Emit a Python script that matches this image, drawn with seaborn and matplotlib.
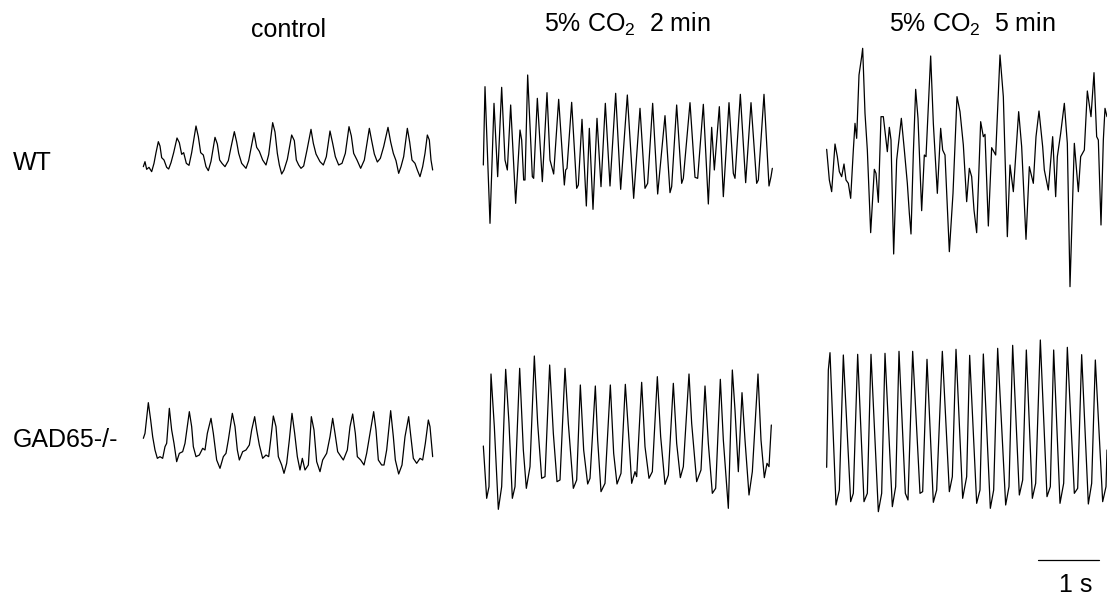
import numpy as np
import matplotlib
matplotlib.use("Agg")
import matplotlib.pyplot as plt
import seaborn as sns

FS = 183.0

wt_ctrl_t = [10, 15, 20, 27, 35, 42, 48, 55, 60, 65,
             72, 80, 86, 93, 101, 111, 118, 125, 131, 139,
             147, 155, 168, 175, 182, 190, 198, 205, 213, 225,
             232, 239, 246, 255, 265, 273, 283, 290, 296, 305,
             318, 326, 342, 350, 358, 368, 378, 386, 398, 405,
             412, 418, 425, 432, 442, 455, 463, 469, 476, 483,
             491, 501, 513, 520, 528, 540, 550, 559, 570, 578,
             586, 596, 606, 616, 627, 634, 641, 651, 662, 673,
             688, 695, 703, 712, 721, 731, 744, 752, 760, 768,
             776, 783, 791, 802, 809, 816, 825, 832, 840, 848,
             855, 862, 868, 873, 878]
wt_ctrl_v = [30, 45, 22, 28, 15, 40, 72, 105, 92, 57,
             50, 28, 23, 42, 72, 116, 102, 67, 72, 40,
             34, 72, 152, 120, 72, 65, 30, 18, 46, 118,
             98, 50, 40, 30, 48, 88, 135, 104, 70, 40,
             25, 48, 132, 88, 76, 50, 35, 66, 162, 134,
             70, 35, 8, 20, 52, 125, 108, 50, 35, 25,
             32, 80, 142, 100, 68, 45, 35, 60, 137, 100,
             60, 35, 40, 70, 150, 122, 70, 50, 25, 50,
             145, 108, 68, 44, 55, 90, 148, 104, 70, 48,
             10, 30, 60, 145, 104, 50, 40, 20, 0, 30,
             70, 125, 110, 50, 20]

wt_2min_t = [25, 30, 45, 57, 68, 80, 90, 97, 107, 122,
             135, 140, 146, 150, 158, 172, 176, 187, 202, 216,
             225, 236, 251, 268, 272, 276, 290, 305, 310, 321,
             334, 343, 354, 366, 378, 391, 405, 422, 437, 457,
             476, 495, 510, 518, 533, 548, 570, 585, 590, 605,
             620, 625, 645, 660, 668, 685, 700, 710, 718, 733,
             745, 762, 775, 780, 796, 812, 828, 845, 850, 867,
             882, 888, 892]
wt_2min_v = [-5, 230, -180, 180, -40, 228, 10, -20, 175, -120,
             100, 70, -50, -50, 265, -40, -45, 195, -55, 212,
             10, -32, 192, -65, -20, -15, 183, -75, -65, 132,
             -128, 105, -138, 135, -70, 180, -68, 210, -78, 205,
             -105, 165, -75, -60, 180, -92, 143, -88, -70, 175,
             -60, -45, 182, -42, -45, 177, -122, 108, -20, 170,
             -100, 182, -30, -45, 207, -58, 182, -60, -50, 207,
             -68, -40, -15]

wt_5min_t = [20, 28, 35, 45, 52, 58, 65, 72, 78, 85,
             92, 100, 105, 110, 117, 125, 128, 135, 142, 152,
             163, 168, 175, 183, 190, 202, 208, 213, 221, 230,
             244, 253, 262, 268, 273, 280, 287, 294, 305, 313,
             318, 332, 340, 352, 362, 368, 375, 388, 399, 411,
             420, 430, 440, 448, 455, 462, 470, 482, 490, 495,
             505, 515, 527, 540, 550, 562, 570, 580, 596, 605,
             618, 628, 640, 648, 657, 668, 673, 685, 698, 707,
             712, 722, 733, 742, 750, 763, 775, 782, 793, 802,
             813, 822, 830, 835, 843, 850, 855, 861]
wt_5min_v = [72, -20, -55, 88, 50, 5, -10, 28, -20, -30,
             -75, 70, 150, 105, 295, 350, 375, 180, 70, -178,
             12, 0, -87, 170, 170, 65, 138, 100, -242, 40,
             165, 70, -30, -120, -182, 60, 252, 165, -112, 55,
             50, 352, 150, -60, 135, 70, 55, -235, -60, 230,
             185, 85, -85, 15, -10, -110, -178, 155, 110, 117,
             -158, 77, 55, 355, 230, -190, 25, -55, 185, 80,
             -198, 20, -30, 110, 187, 80, 10, -50, 110, -70,
             50, 120, 210, 90, -340, 90, -55, 50, 70, 247,
             170, 302, 110, 100, -155, 100, 195, 170]

ko_ctrl_t = [10, 15, 25, 32, 38, 45, 52, 60, 68, 75,
             80, 88, 95, 102, 110, 118, 128, 135, 148, 155,
             160, 168, 178, 188, 195, 202, 213, 220, 230, 240,
             250, 258, 265, 277, 285, 292, 298, 308, 318, 328,
             335, 344, 350, 358, 368, 378, 386, 392, 400, 408,
             415, 425, 432, 440, 448, 456, 464, 472, 480, 487,
             495, 505, 514, 522, 530, 540, 548, 560, 570, 578,
             585, 593, 603, 610, 622, 630, 638, 646, 652, 662,
             672, 680, 690, 701, 708, 715, 725, 732, 740, 752,
             760, 766, 776, 786, 795, 806, 812, 820, 830, 840,
             848, 856, 865, 870, 878]
ko_ctrl_v = [105, 120, 212, 160, 110, 70, 45, 50, 45, 80,
             90, 195, 130, 90, 35, 60, 65, 90, 185, 140,
             80, 50, 55, 75, 70, 120, 165, 120, 40, 15,
             50, 60, 100, 180, 140, 70, 40, 65, 70, 85,
             130, 170, 130, 85, 45, 55, 50, 100, 172, 140,
             50, 25, 0, 30, 100, 180, 120, 50, 10, 45,
             10, 25, 170, 130, 35, 5, 40, 60, 110, 165,
             120, 65, 50, 40, 70, 140, 178, 120, 50, 40,
             25, 60, 120, 185, 130, 40, 25, 25, 70, 188,
             110, 40, -2, 25, 110, 170, 115, 45, 30, 45,
             40, 90, 160, 140, 50]

ko_2min_t = [25, 35, 42, 48, 58, 70, 80, 92, 102, 112,
             120, 134, 145, 154, 165, 178, 188, 200, 210, 224,
             235, 246, 255, 270, 280, 295, 305, 316, 326, 338,
             345, 361, 368, 378, 390, 406, 416, 426, 438, 451,
             462, 470, 480, 485, 500, 510, 522, 532, 547, 557,
             570, 580, 595, 605, 616, 625, 642, 650, 665, 678,
             690, 700, 712, 722, 736, 745, 760, 772, 780, 790,
             801, 810, 822, 832, 849, 858, 868, 876, 882, 889]
ko_2min_v = [-28, -185, -150, 188, 30, -218, -150, 202, 40, -185,
             -150, 205, -40, -155, -90, 242, 40, -125, -120, 215,
             10, -135, -130, 205, 40, -155, -130, 155, -40, -142,
             -125, 152, -10, -165, -140, 155, -50, -142, -110, 157,
             -10, -140, -105, -120, 163, -30, -125, -105, 180, 0,
             -143, -115, 160, -20, -123, -90, 188, 40, -135, -100,
             152, -20, -170, -155, 172, -10, -215, 200, 80, -105,
             132, -10, -175, -105, 188, -10, -123, -80, -90, 35]

ko_5min_t = [20, 25, 30, 48, 58, 70, 92, 100, 113, 132,
             142, 153, 175, 185, 195, 217, 227, 237, 256, 264,
             278, 300, 308, 321, 340, 350, 367, 388, 397, 408,
             428, 440, 449, 470, 480, 490, 511, 521, 533, 557,
             567, 578, 598, 608, 619, 637, 647, 661, 681, 691,
             701, 720, 731, 742, 763, 773, 785, 805, 815, 826,
             848, 858, 861]
ko_5min_v = [-112, 180, 232, -225, -180, 225, -215, -190, 227, -215,
             -190, 227, -245, -190, 230, -230, -170, 236, -190, -210,
             236, -190, -185, 212, -217, -180, 236, -185, -140, 242,
             -205, -140, 224, -220, -180, 228, -235, -180, 245, -225,
             -170, 254, -195, -150, 240, -205, -160, 270, -200, -170,
             240, -220, -160, 248, -190, -175, 226, -222, -160, 210,
             -215, -170, -60]

row_labels = ["WT", "GAD65-/-"]
col_labels = ["control", r"5% CO$_2$  2 min", r"5% CO$_2$  5 min"]
scale_label = "1 s"

traces = [
    (wt_ctrl_t, wt_ctrl_v), (wt_2min_t, wt_2min_v), (wt_5min_t, wt_5min_v),
    (ko_ctrl_t, ko_ctrl_v), (ko_2min_t, ko_2min_v), (ko_5min_t, ko_5min_v),
]

# layout (pixels): left, top, width, height, top amplitude
W, H = 1107, 595
UPX = 3  # data units per pixel
boxes = [
    (140, 110, 300, 80, 200), (475, 70, 310, 170, 280), (820, 40, 287, 260, 400),
    (140, 390, 300, 90, 250), (475, 340, 310, 180, 290), (820, 330, 287, 190, 300),
]

sns.set_style("white")
plt.rcParams["font.family"] = ["Liberation Sans", "DejaVu Sans"]
plt.rcParams["text.color"] = "black"
plt.rcParams["mathtext.fontset"] = "custom"
plt.rcParams["mathtext.rm"] = "Liberation Sans"
plt.rcParams["mathtext.it"] = "Liberation Sans:italic"

fig = plt.figure(figsize=(W / 100, H / 100), dpi=100)

for (t, v), (l, top, w, h, c) in zip(traces, boxes):
    ax = fig.add_axes([l / W, 1 - (top + h) / H, w / W, h / H])
    sns.lineplot(x=np.array(t) / FS, y=v, ax=ax, color="black", linewidth=0.9,
                 sort=False, estimator=None)
    ax.set_xlim(0, w * UPX / FS)
    ax.set_ylim(c - h * UPX, c)
    ax.axis("off")

# scale bar
sb = fig.add_axes([1020 / W, 1 - 575 / H, 87 / W, 30 / H])
x0 = 18 * UPX / FS
sb.plot([x0, x0 + 1.0], [0.5, 0.5], color="black", linewidth=0.9)
sb.set_xlim(0, 87 * UPX / FS)
sb.set_ylim(0, 1)
sb.axis("off")
fig.text(1076 / W, 1 - 592 / H, scale_label, ha="center", va="baseline",
         fontsize=18, color="black")

# column and row labels
for x, y, s in zip([289, 627, 972], [37, 32, 32], col_labels):
    fig.text(x / W, 1 - y / H, s, ha="center", va="baseline", fontsize=18, color="black")
for y, s in zip([170, 447], row_labels):
    fig.text(13 / W, 1 - y / H, s, ha="left", va="baseline", fontsize=18, color="black")

fig.savefig("out.png", dpi=100)
plt.close(fig)
